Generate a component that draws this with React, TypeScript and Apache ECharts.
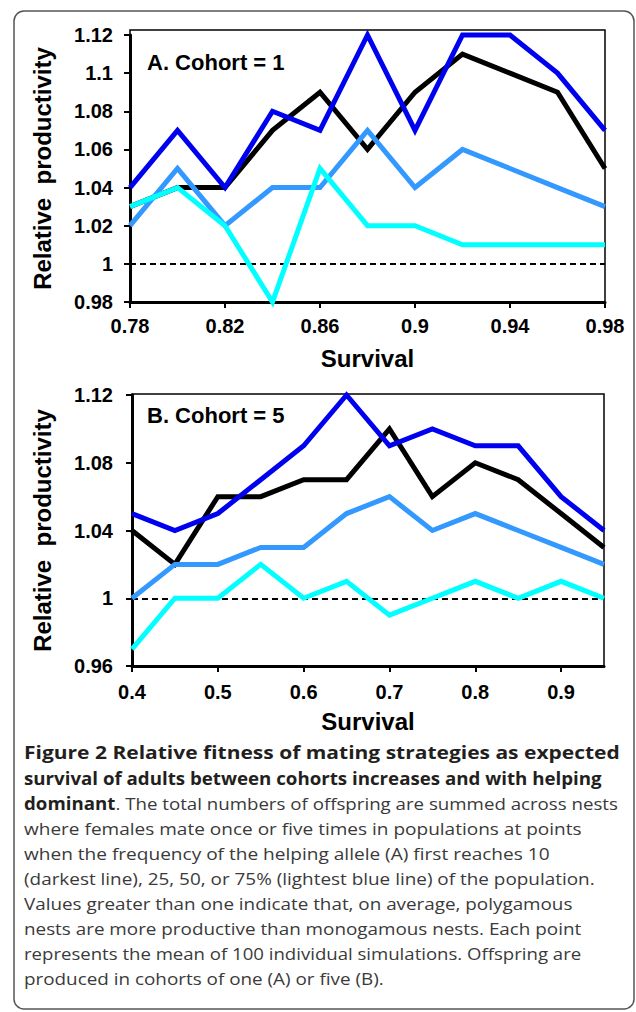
import React, { useEffect, useRef } from 'react';
import * as echarts from 'echarts';

// ---------- data ----------
const survivalA = ['0.78', '0.80', '0.82', '0.84', '0.86', '0.88', '0.90', '0.92', '0.94', '0.96', '0.98'];
const a10 = [1.03, 1.04, 1.04, 1.07, 1.09, 1.06, 1.09, 1.11, 1.10, 1.09, 1.05];
const a25 = [1.04, 1.07, 1.04, 1.08, 1.07, 1.12, 1.07, 1.12, 1.12, 1.10, 1.07];
const a50 = [1.02, 1.05, 1.02, 1.04, 1.04, 1.07, 1.04, 1.06, 1.05, 1.04, 1.03];
const a75 = [1.03, 1.04, 1.02, 0.98, 1.05, 1.02, 1.02, 1.01, 1.01, 1.01, 1.01];

const survivalB = ['0.40', '0.45', '0.50', '0.55', '0.60', '0.65', '0.70', '0.75', '0.80', '0.85', '0.90', '0.95'];
const b10 = [1.04, 1.02, 1.06, 1.06, 1.07, 1.07, 1.10, 1.06, 1.08, 1.07, 1.05, 1.03];
const b25 = [1.05, 1.04, 1.05, 1.07, 1.09, 1.12, 1.09, 1.10, 1.09, 1.09, 1.06, 1.04];
const b50 = [1.00, 1.02, 1.02, 1.03, 1.03, 1.05, 1.06, 1.04, 1.05, 1.04, 1.03, 1.02];
const b75 = [0.97, 1.00, 1.00, 1.02, 1.00, 1.01, 0.99, 1.00, 1.01, 1.00, 1.01, 1.00];

const panelTitles = ['A. Cohort = 1', 'B. Cohort = 5'];
const xAxisTitle = 'Survival';
const yAxisTitle = 'Relative  productivity';
const referenceLevel = 1;

const captionBold1 = 'Figure 2 Relative fitness of mating strategies as expected';
const captionBold2 = 'survival of adults between cohorts increases and with helping';
const captionBold3 = 'dominant';
const captionRest3 = '. The total numbers of offspring are summed across nests';
const captionPlain = [
  'where females mate once or five times in populations at points',
  'when the frequency of the helping allele (A) first reaches 10',
  '(darkest line), 25, 50, or 75% (lightest blue line) of the population.',
  'Values greater than one indicate that, on average, polygamous',
  'nests are more productive than monogamous nests. Each point',
  'represents the mean of 100 individual simulations. Offspring are',
  'produced in cohorts of one (A) or five (B).',
];

// ---------- style ----------
const FONT = '"Liberation Sans", Arial, sans-serif';
const CAP_FONT = '"Open Sans", "Noto Sans", sans-serif';
const CAP_SIZE = 17;
const COLORS = ['#000000', '#0000F0', '#3399FF', '#00FFFF'];

function measure(text: string, weight: string) {
  const ctx = document.createElement('canvas').getContext('2d')!;
  ctx.font = `${weight} ${CAP_SIZE}px ${CAP_FONT}`;
  return ctx.measureText(text).width;
}

function buildCaption(): any[] {
  const x0 = 24;
  const y0 = 753;
  const lh = 25;
  const els: any[] = [];
  const txt = (text: string, x: number, y: number, sx: number, bold: boolean) => ({
    type: 'text',
    x,
    y,
    scaleX: sx,
    style: {
      text,
      fontSize: CAP_SIZE,
      fontFamily: CAP_FONT,
      fontWeight: bold ? 'bold' : 'normal',
      fill: bold ? '#231f20' : '#3a3a3a',
      align: 'left',
      verticalAlign: 'middle',
    },
  });
  // right ends of lines (layout)
  const ends = [620, 602, 618, 582, 550, 595, 573, 582, 582];
  const w1 = measure(captionBold1, 'bold');
  els.push(txt(captionBold1, x0, y0, (ends[0] - x0) / w1, true));
  const w2 = measure(captionBold2, 'bold');
  els.push(txt(captionBold2, x0, y0 + lh, (ends[1] - x0) / w2, true));
  const w3b = measure(captionBold3, 'bold');
  const w3n = measure(captionRest3, 'normal');
  const s3 = (ends[2] - x0) / (w3b + w3n);
  els.push(txt(captionBold3, x0, y0 + 2 * lh, s3, true));
  els.push(txt(captionRest3, x0 + w3b * s3, y0 + 2 * lh, s3, false));
  let sumS = 0;
  let n = 0;
  captionPlain.forEach((line, i) => {
    const w = measure(line, 'normal');
    const end = ends[3 + i];
    let s: number;
    if (end !== undefined) {
      s = (end - x0) / w;
      sumS += s;
      n++;
    } else {
      s = sumS / n;
    }
    els.push(txt(line, x0, y0 + (3 + i) * lh, s, false));
  });
  return els;
}

function axisPair(gridIndex: number, cats: string[], yMin: number, yMax: number, yInt: number, xNameGap: number, xLabelMargin: number, yNameGap: number, yLabelMargin: number) {
  const xAxis = {
    type: 'category',
    gridIndex,
    data: cats,
    boundaryGap: false,
    axisLine: { show: true, lineStyle: { color: '#000', width: 3 } },
    axisTick: { show: true, interval: 1, length: 6, lineStyle: { color: '#000', width: 2 } },
    axisLabel: {
      interval: 1,
      margin: xLabelMargin,
      fontSize: 20,
      fontWeight: 'bold',
      color: '#000',
      fontFamily: FONT,
      formatter: (v: string) => String(Number(v)),
    },
    splitLine: { show: false },
    name: xAxisTitle,
    nameLocation: 'middle',
    nameGap: xNameGap,
    nameTextStyle: { fontSize: 24, fontWeight: 'bold', color: '#000', fontFamily: FONT },
  };
  const yAxis = {
    type: 'value',
    gridIndex,
    min: yMin,
    max: yMax,
    interval: yInt,
    axisLine: { show: true, lineStyle: { color: '#000', width: 3 } },
    axisTick: { show: true, length: 6, lineStyle: { color: '#000', width: 2 } },
    axisLabel: { margin: yLabelMargin, fontSize: 20, fontWeight: 'bold', color: '#000', fontFamily: FONT },
    splitLine: { show: false },
    name: yAxisTitle,
    nameLocation: 'middle',
    nameGap: yNameGap,
    nameTextStyle: { fontSize: 24, fontWeight: 'bold', color: '#000', fontFamily: FONT },
  };
  return { xAxis, yAxis };
}

function lineSeries(idx: number, data: number[], color: string, withRef: boolean) {
  const s: any = {
    type: 'line',
    xAxisIndex: idx,
    yAxisIndex: idx,
    data,
    symbol: 'none',
    showSymbol: false,
    clip: false,
    lineStyle: { color, width: 5, join: 'miter', cap: 'butt' },
    silent: true,
  };
  if (withRef) {
    s.markLine = {
      silent: true,
      symbol: ['none', 'none'],
      label: { show: false },
      lineStyle: { color: '#000', width: 2, type: [6, 4] },
      data: [{ yAxis: referenceLevel }],
      z: 1,
    };
  }
  return s;
}

export default function App() {
  const ref = useRef<HTMLDivElement>(null);
  useEffect(() => {
    if (!ref.current) return;
    const chart = echarts.init(ref.current, undefined, { renderer: 'svg' });
    const top = axisPair(0, survivalA, 0.98, 1.12, 0.02, 44, 14, 76, 17);
    const bot = axisPair(1, survivalB, 0.96, 1.12, 0.04, 43, 16, 78, 19);
    const option: any = {
      animation: false,
      backgroundColor: '#ffffff',
      grid: [
        { left: 130, top: 35, width: 475, height: 267 },
        { left: 132, top: 395, width: 472, height: 271 },
      ],
      xAxis: [top.xAxis, bot.xAxis],
      yAxis: [top.yAxis, bot.yAxis],
      series: [
        lineSeries(0, a10, COLORS[0], true),
        lineSeries(0, a25, COLORS[1], false),
        lineSeries(0, a50, COLORS[2], false),
        lineSeries(0, a75, COLORS[3], false),
        lineSeries(1, b10, COLORS[0], true),
        lineSeries(1, b25, COLORS[1], false),
        lineSeries(1, b50, COLORS[2], false),
        lineSeries(1, b75, COLORS[3], false),
      ],
      graphic: [
        {
          type: 'rect',
          shape: { x: 14, y: 11, width: 620, height: 998, r: 10 },
          style: { fill: 'none', stroke: '#555', lineWidth: 1.5 },
          z: -1,
          silent: true,
        },
        {
          type: 'rect',
          shape: { x: 130, y: 30, width: 475, height: 272 },
          style: { fill: 'none', stroke: '#000', lineWidth: 1.5 },
          z: -1,
          silent: true,
        },
        {
          type: 'rect',
          shape: { x: 132, y: 394, width: 472, height: 272 },
          style: { fill: 'none', stroke: '#000', lineWidth: 1.5 },
          z: -1,
          silent: true,
        },
        {
          type: 'text',
          x: 147,
          y: 62,
          style: { text: panelTitles[0], fontSize: 22, fontWeight: 'bold', fontFamily: FONT, fill: '#000', align: 'left', verticalAlign: 'middle' },
        },
        {
          type: 'text',
          x: 147,
          y: 415,
          style: { text: panelTitles[1], fontSize: 22, fontWeight: 'bold', fontFamily: FONT, fill: '#000', align: 'left', verticalAlign: 'middle' },
        },
        ...buildCaption(),
      ],
    };
    chart.setOption(option);
    return () => chart.dispose();
  }, []);
  return (
    <div
      ref={ref}
      style={{ position: 'absolute', left: 0, top: 0, width: 636, height: 1012, background: '#fff' }}
    />
  );
}
